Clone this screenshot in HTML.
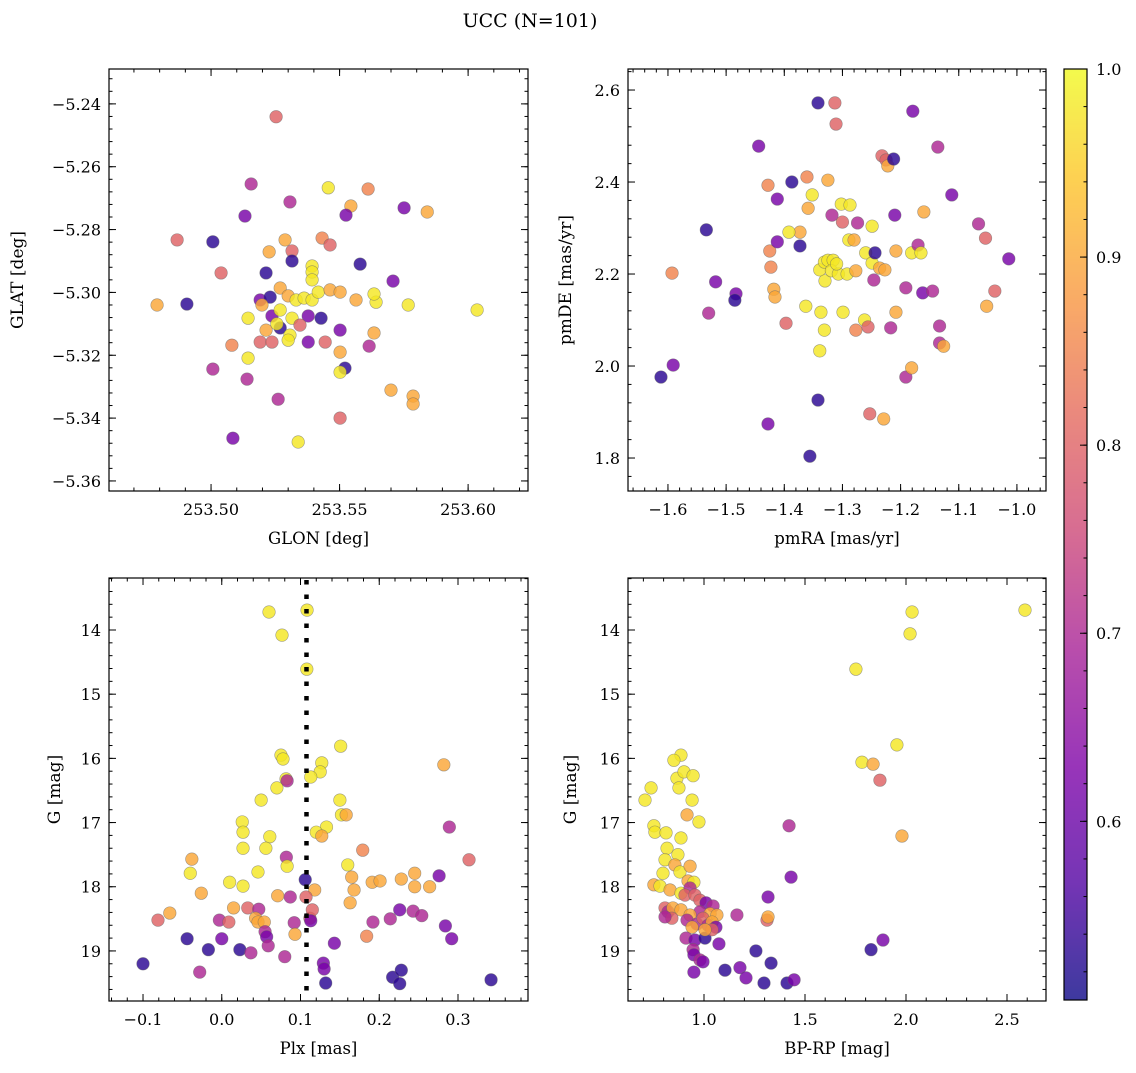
<!DOCTYPE html>
<html><head><meta charset="utf-8"><style>
body{margin:0;background:#fff;}
svg text{font-family:"DejaVu Serif","Liberation Serif",serif;fill:#000;}
</style></head><body>
<svg id="fig" width="1136" height="1068" viewBox="0 0 1136 1068" xmlns="http://www.w3.org/2000/svg">
<text x="530" y="27" font-size="19" text-anchor="middle">UCC (N=101)</text>
</svg>
<script>
const D=0.53,P=0.62,M=0.7,K=0.8,Q=0.85,O=0.9,Y=0.98;
// Panel 1: GLON / GLAT
const glon=[253.5253,253.5156,253.5132,253.5307,253.5456,253.5544,253.5611,253.5751,253.5841,253.4868,253.5007,253.5226,253.5288,253.5315,253.5432,253.5463,253.5525,253.5214,253.5039,253.5393,253.5580,253.5708,253.4790,253.4906,253.5191,253.5230,253.5269,253.5300,253.5331,253.5362,253.5393,253.5417,253.5463,253.5502,253.5564,253.5642,253.5634,253.5767,253.6035,253.5144,253.5198,253.5237,253.5269,253.5315,253.5378,253.5428,253.5346,253.5269,253.5214,253.5307,253.5191,253.5237,253.5300,253.5378,253.5444,253.5502,253.5634,253.5081,253.5615,253.5144,253.5502,253.5521,253.5502,253.5007,253.5140,253.5700,253.5786,253.5786,253.5261,253.5502,253.5085,253.5339,253.5393,253.5393,253.5315,253.5256];
const glat=[-5.2441,-5.2655,-5.2757,-5.2712,-5.2667,-5.2725,-5.2671,-5.2731,-5.2744,-5.2833,-5.2839,-5.2871,-5.2833,-5.2868,-5.2827,-5.2849,-5.2754,-5.2938,-5.2938,-5.2916,-5.2910,-5.2964,-5.3040,-5.3037,-5.3024,-5.3015,-5.2986,-5.3011,-5.3024,-5.3018,-5.3024,-5.2999,-5.2992,-5.2999,-5.3024,-5.3031,-5.3005,-5.3040,-5.3056,-5.3082,-5.3040,-5.3075,-5.3056,-5.3082,-5.3075,-5.3082,-5.3104,-5.3113,-5.3120,-5.3136,-5.3158,-5.3158,-5.3152,-5.3158,-5.3158,-5.3120,-5.3129,-5.3168,-5.3171,-5.3209,-5.3190,-5.3241,-5.3254,-5.3244,-5.3276,-5.3311,-5.3330,-5.3355,-5.3340,-5.3400,-5.3464,-5.3476,-5.2935,-5.2960,-5.2900,-5.3100];
const prob1=[K,M,P,M,Y,O,Q,P,O,K,D,O,O,K,Q,K,P,D,K,Y,D,P,O,D,P,D,O,O,Y,Y,Y,Y,O,O,O,Y,Y,Y,Y,Y,O,P,Y,Y,P,D,K,D,O,Y,K,K,Y,P,K,P,O,Q,M,Y,O,D,Y,M,M,O,O,O,M,K,P,Y,Y,Y,D,Y];
// Panel 2: pmRA / pmDE
const pmra=[-1.612,-1.591,-1.534,-1.593,-1.530,-1.518,-1.483,-1.485,-1.444,-1.428,-1.412,-1.425,-1.423,-1.418,-1.416,-1.412,-1.387,-1.373,-1.392,-1.373,-1.397,-1.428,-1.361,-1.359,-1.352,-1.363,-1.342,-1.342,-1.356,-1.339,-1.337,-1.331,-1.339,-1.331,-1.325,-1.330,-1.316,-1.319,-1.307,-1.310,-1.325,-1.318,-1.313,-1.311,-1.302,-1.300,-1.299,-1.292,-1.289,-1.287,-1.280,-1.277,-1.277,-1.274,-1.260,-1.262,-1.256,-1.253,-1.249,-1.249,-1.246,-1.244,-1.236,-1.227,-1.232,-1.225,-1.222,-1.229,-1.212,-1.210,-1.217,-1.208,-1.208,-1.191,-1.191,-1.181,-1.179,-1.181,-1.170,-1.165,-1.160,-1.162,-1.145,-1.136,-1.133,-1.133,-1.126,-1.112,-1.066,-1.054,-1.052,-1.038,-1.014];
const pmde=[1.976,2.002,2.296,2.202,2.115,2.183,2.157,2.143,2.478,2.393,2.363,2.250,2.215,2.167,2.150,2.270,2.400,2.291,2.291,2.261,2.093,1.874,2.411,2.343,2.372,2.130,2.572,1.926,1.804,2.033,2.117,2.078,2.209,2.226,2.230,2.185,2.230,2.207,2.200,2.222,2.404,2.328,2.572,2.526,2.352,2.313,2.117,2.200,2.274,2.350,2.274,2.078,2.207,2.311,2.246,2.100,2.085,1.896,2.224,2.304,2.187,2.246,2.213,2.209,2.457,2.448,2.435,1.885,2.450,2.328,2.083,2.250,2.117,2.170,1.976,1.996,2.554,2.246,2.263,2.246,2.335,2.159,2.163,2.476,2.087,2.050,2.043,2.372,2.309,2.278,2.130,2.163,2.233];
const prob2=[D,P,D,Q,M,P,P,D,P,Q,P,Q,Q,O,O,P,D,O,Y,D,K,P,Q,O,Y,Y,D,D,D,Y,Y,Y,Y,Y,Y,Y,Y,Y,Y,Y,O,M,K,K,Y,K,Y,Y,Y,Y,O,Q,O,M,Y,Y,K,K,Y,Y,M,D,O,O,K,K,O,O,D,P,M,O,O,M,M,O,P,Y,M,Y,O,P,M,M,M,M,O,P,M,K,O,K,P];
// Panel 3: Plx / G
const plx=[0.1083,0.0600,0.0765,0.1080,0.1510,0.0752,0.0778,0.1270,0.1250,0.0816,0.2820,0.0500,0.0830,0.1130,0.1500,0.1520,0.1580,0.0260,0.1330,0.2890,0.0270,0.1200,0.1270,0.0610,0.0270,0.0560,0.1790,-0.0380,0.0820,0.1600,0.3140,-0.0400,0.0460,0.0830,0.2450,0.2760,0.0100,0.0270,0.1650,0.1910,0.2010,0.2280,0.2640,0.2450,-0.0260,0.1180,0.1680,0.1060,0.0710,0.0870,0.1070,0.1630,0.0150,0.0330,0.0470,-0.0660,-0.0810,-0.0030,0.0090,0.0430,0.0460,0.0540,0.0920,0.1120,0.1150,0.1130,0.1920,0.1840,0.2140,0.2260,0.2430,0.2540,0.2840,0.0930,0.0550,0.0570,0.0000,-0.0440,0.1430,0.0590,-0.0170,0.0230,0.0370,0.0800,0.2920,-0.1000,-0.0280,0.1290,0.1300,0.1320,0.2170,0.2280,0.2260,0.3420,0.0700];
const g3=[13.69,13.72,14.08,14.61,15.81,15.95,16.01,16.07,16.21,16.32,16.10,16.65,16.35,16.29,16.65,16.88,16.88,16.99,17.07,17.07,17.15,17.15,17.21,17.22,17.40,17.40,17.43,17.57,17.54,17.66,17.58,17.79,17.77,17.68,17.79,17.83,17.93,17.99,17.85,17.93,17.91,17.88,18.00,18.00,18.10,18.05,18.05,17.89,18.14,18.16,18.16,18.25,18.33,18.33,18.35,18.41,18.52,18.52,18.55,18.49,18.55,18.55,18.56,18.49,18.36,18.53,18.55,18.77,18.50,18.36,18.38,18.45,18.61,18.74,18.70,18.78,18.81,18.81,18.88,18.92,18.98,18.98,19.03,19.09,18.81,19.20,19.33,19.19,19.28,19.50,19.41,19.30,19.51,19.45,16.46];
const prob3=[Y,Y,Y,Y,Y,Y,Y,Y,Y,Y,O,Y,M,Y,Y,Y,O,Y,Y,M,Y,Y,O,Y,Y,Y,Q,O,M,Y,K,Y,Y,Y,O,P,Y,Y,O,O,O,O,O,O,O,O,O,D,O,M,K,O,O,K,M,O,K,M,K,O,O,O,M,K,K,P,M,Q,M,P,M,M,P,O,M,P,P,D,P,M,D,D,M,M,P,D,M,P,P,D,D,D,D,D,Y];
// Panel 4: BP-RP / G
const bprp=[2.589,2.030,2.020,1.752,1.955,1.782,1.837,1.871,1.980,1.421,1.431,0.886,0.851,0.866,0.901,0.946,0.876,0.738,0.708,0.941,0.975,0.916,0.752,0.757,0.812,0.886,0.817,0.807,0.871,0.856,0.797,0.881,0.931,0.921,0.950,0.752,0.782,0.832,0.886,0.931,0.906,0.955,0.980,1.010,1.045,0.807,0.822,0.846,0.886,0.980,0.931,1.030,1.064,0.841,0.807,0.916,0.965,0.995,1.020,1.040,1.059,0.941,0.911,0.955,1.005,1.040,1.005,1.163,1.312,1.317,1.317,1.074,0.946,0.950,0.980,0.995,0.950,1.178,1.208,1.104,1.257,1.332,1.297,1.411,1.446,1.827,1.886];
const g4=[13.69,13.72,14.06,14.61,15.79,16.06,16.09,16.34,17.21,17.05,17.85,15.95,16.03,16.31,16.21,16.27,16.46,16.46,16.65,16.65,16.99,16.88,17.05,17.15,17.16,17.24,17.40,17.58,17.50,17.66,17.79,17.77,17.68,17.91,17.93,17.97,17.99,18.05,18.10,18.02,18.13,18.13,18.21,18.25,18.30,18.33,18.39,18.33,18.36,18.39,18.44,18.42,18.44,18.49,18.47,18.52,18.58,18.49,18.60,18.55,18.63,18.63,18.80,18.83,18.80,18.67,18.67,18.44,18.52,18.47,18.16,18.89,18.98,19.06,19.14,19.17,19.33,19.26,19.42,19.30,19.00,19.19,19.50,19.50,19.45,18.98,18.83];
const prob4=[Y,Y,Y,Y,Y,Y,O,K,O,M,P,Y,Y,Y,Y,Y,Y,Y,Y,Y,Y,O,Y,Y,Y,Y,Y,Y,Y,O,Y,Y,O,O,Y,O,Y,O,Y,M,K,K,K,P,M,K,M,O,O,M,O,O,O,K,M,M,M,K,M,O,P,O,M,P,D,K,O,M,K,O,P,P,M,P,M,P,P,P,P,D,D,D,D,D,P,D,P];
// axis ticks
const p1xTicks=[253.50,253.55,253.60], p1xLabels=["253.50","253.55","253.60"];
const p1yTicks=[-5.24,-5.26,-5.28,-5.30,-5.32,-5.34,-5.36], p1yLabels=["−5.24","−5.26","−5.28","−5.30","−5.32","−5.34","−5.36"];
const p2xTicks=[-1.6,-1.5,-1.4,-1.3,-1.2,-1.1,-1.0], p2xLabels=["−1.6","−1.5","−1.4","−1.3","−1.2","−1.1","−1.0"];
const p2yTicks=[1.8,2.0,2.2,2.4,2.6], p2yLabels=["1.8","2.0","2.2","2.4","2.6"];
const p3xTicks=[-0.1,0.0,0.1,0.2,0.3], p3xLabels=["−0.1","0.0","0.1","0.2","0.3"];
const gTicks=[14,15,16,17,18,19], gLabels=["14","15","16","17","18","19"];
const p4xTicks=[1.0,1.5,2.0,2.5], p4xLabels=["1.0","1.5","2.0","2.5"];
const cbTicks=[0.6,0.7,0.8,0.9,1.0], cbLabels=["0.6","0.7","0.8","0.9","1.0"];
const plxLine=0.1076;

const NS="http://www.w3.org/2000/svg";
const svg=document.getElementById('fig');
function mk(tag,attrs,parent){const e=document.createElementNS(NS,tag);for(const k in attrs)e.setAttribute(k,attrs[k]);(parent||svg).appendChild(e);return e;}
const CMIN=0.505,CMAX=1.0;
const stops=[[0,[13,8,135]],[0.13,[84,2,163]],[0.25,[126,3,168]],[0.38,[168,34,150]],[0.5,[204,71,120]],[0.63,[229,107,93]],[0.75,[248,149,64]],[0.88,[253,196,39]],[1,[240,249,33]]];
function cmap(v){let t=Math.max(0,Math.min(1,(v-CMIN)/(CMAX-CMIN)));for(let i=1;i<stops.length;i++){if(t<=stops[i][0]){const a=stops[i-1],b=stops[i];const f=(t-a[0])/(b[0]-a[0]);const c=a[1].map((x,j)=>Math.round(x+(b[1][j]-x)*f));return `rgb(${c.join(',')})`;}}return 'rgb(240,249,33)';}

function panel(name,box,xd,yd,xt,xl,xminor,yt,yl,yminor,xs,ys,ps,xlabel,ylabel,ylx,extra){
  const g=mk('g',{});
  
  
  const [L,T,R,B]=box;
  const sx=v=>L+(v-xd[0])/(xd[1]-xd[0])*(R-L);
  const sy=v=>T+(yd[1]-v)/(yd[1]-yd[0])*(B-T);
  const pts=mk('g',{},g);
  
  
  for(let i=0;i<xs.length;i++){
    const c=mk('circle',{cx:sx(xs[i]),cy:sy(ys[i]),r:6.3,fill:cmap(ps[i]),'fill-opacity':0.82,stroke:'#666','stroke-opacity':0.6,'stroke-width':0.6},pts);
    
    
  }
  if(extra)extra(g,sx,sy);
  const f=mk('rect',{x:L,y:T,width:R-L,height:B-T,fill:'none',stroke:'#000','stroke-width':1.2},g);
  
  
  const tk=mk('g',{stroke:'#000','stroke-width':1},g);
  const lo=Math.min(xd[0],xd[1]),hi=Math.max(xd[0],xd[1]);
  for(let v=Math.ceil(lo/xminor-1e-6)*xminor;v<=hi+1e-9;v+=xminor){const x=sx(v);mk('line',{x1:x,x2:x,y1:B,y2:B-3.5},tk);mk('line',{x1:x,x2:x,y1:T,y2:T+3.5},tk);}
  for(let v=Math.ceil(yd[0]/yminor-1e-6)*yminor;v<=yd[1]+1e-9;v+=yminor){const y=sy(v);mk('line',{x1:L,x2:L+3.5,y1:y,y2:y},tk);mk('line',{x1:R,x2:R-3.5,y1:y,y2:y},tk);}
  xt.forEach((v,i)=>{const x=sx(v);mk('line',{x1:x,x2:x,y1:B,y2:B-7},tk);mk('line',{x1:x,x2:x,y1:T,y2:T+7},tk);
    const t=mk('text',{x:x,y:B+24,'font-size':16,'text-anchor':'middle'},g);t.textContent=xl[i];
    });
  yt.forEach((v,i)=>{const y=sy(v);mk('line',{x1:L,x2:L+7,y1:y,y2:y},tk);mk('line',{x1:R,x2:R-7,y1:y,y2:y},tk);
    const t=mk('text',{x:L-8,y:y+6,'font-size':16,'text-anchor':'end'},g);t.textContent=yl[i];
    });
  const xa=mk('text',{x:(L+R)/2,y:B+53,'font-size':16.5,'text-anchor':'middle'},g);xa.textContent=xlabel;
  
  const ya=mk('text',{x:0,y:0,'font-size':17,'text-anchor':'middle','dominant-baseline':'central',transform:`translate(${ylx},${(T+B)/2}) rotate(-90)`},g);ya.textContent=ylabel;
  
}
panel('panel-glon-glat',[109,69,528,491],[253.4603,253.6233],[-5.3632,-5.2289],p1xTicks,p1xLabels,0.01,p1yTicks,p1yLabels,0.004,glon,glat,prob1,'GLON [deg]','GLAT [deg]',18);
panel('panel-pm',[628,69,1046,491],[-1.6687,-0.950],[1.7283,2.6457],p2xTicks,p2xLabels,0.02,p2yTicks,p2yLabels,0.04,pmra,pmde,prob2,'pmRA [mas/yr]','pmDE [mas/yr]',566);
function panelG(name,box,xd,xt,xl,xminor,xs,ps,gs,xlabel,ylx,extra){
  panel(name,box,xd,[-19.78,-13.19],xt,xl,xminor,gTicks.map(v=>-v),gLabels,0.2,xs,gs.map(v=>-v),ps,xlabel,'G [mag]',ylx,extra);
}
panelG('panel-plx-g',[109,578,528,1001],[-0.1432,0.3889],p3xTicks,p3xLabels,0.02,plx,prob3,g3,'Plx [mas]',55,(g,sx,sy)=>{
  const l=mk('line',{x1:sx(plxLine),x2:sx(plxLine),y1:580,y2:1001,stroke:'#000','stroke-width':4.5,'stroke-dasharray':'4.5 10'},g);
  
});
panelG('panel-cmd',[628,578,1046,1001],[0.6238,2.693],p4xTicks,p4xLabels,0.1,bprp,prob4,g4,'BP-RP [mag]',571);

// colorbar
const cb=mk('g',{});


const CL=1064,CR=1087,CT=69,CB=1000;
const cy=v=>CB-(v-CMIN)/(CMAX-CMIN)*(CB-CT);
for(let y=CT;y<CB;y+=1){const v=CMIN+(CB-y-0.5)/(CB-CT)*(CMAX-CMIN);mk('rect',{x:CL,y:y,width:CR-CL,height:1,fill:cmap(v),'fill-opacity':0.8,'shape-rendering':'crispEdges'},cb);}
mk('rect',{x:CL,y:CT,width:CR-CL,height:CB-CT,fill:'none',stroke:'#000','stroke-width':1.2},cb);
for(let v=0.52;v<=1.0001;v+=0.02){mk('line',{x1:CR,x2:CR-3.5,y1:cy(v),y2:cy(v),stroke:'#000'},cb);}
cbTicks.forEach((v,i)=>{mk('line',{x1:CR,x2:CR-7,y1:cy(v),y2:cy(v),stroke:'#000'},cb);
  const t=mk('text',{x:CR+9,y:cy(v)+6,'font-size':16},cb);t.textContent=cbLabels[i];
  });
</script>
</body></html>
